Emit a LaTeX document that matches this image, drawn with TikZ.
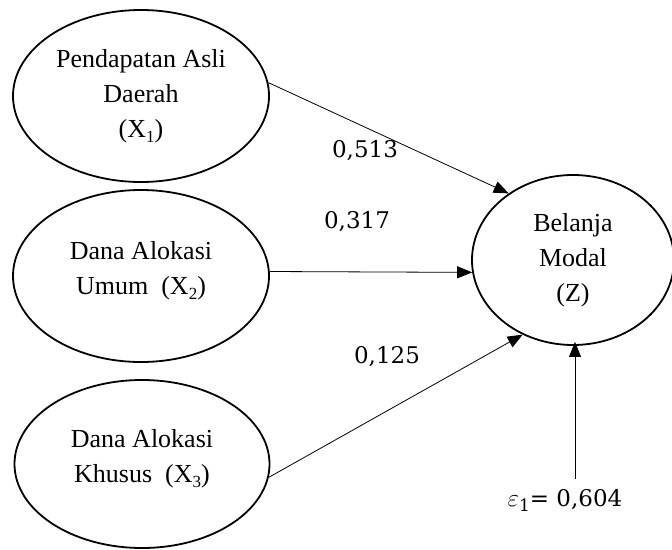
\documentclass[tikz,border=0pt]{standalone}
\usepackage{fontspec}
\setmainfont{Liberation Serif}
\newfontfamily\numfont{DejaVu Serif}
\newcommand\lowsub[1]{\raisebox{-5pt}{\fontsize{17}{17}\selectfont #1}}
\usetikzlibrary{shapes.geometric,arrows.meta}
\begin{document}
\begin{tikzpicture}[x=1pt,y=-1pt,
	var/.style={ellipse, draw, line width=1.8pt, inner sep=0pt, align=center,
		font=\fontsize{26}{35}\selectfont},
	coef/.style={font=\numfont\fontsize{23}{28}\selectfont},
	path/.style={-{Triangle[length=15pt,width=12pt]}, line width=0.8pt}]
	\useasboundingbox (0,0) rectangle (672,549);
	\node (X1) at (141, 96)	[var, minimum width=256pt, minimum height=172pt]	{Pendapatan Asli\\Daerah\\(X\lowsub{1})};
	\node (X2) at (141,276)	[var, minimum width=256pt, minimum height=172pt]	{Dana Alokasi\\Umum\ \ (X\lowsub{2})\\[-19pt]};
	\node (X3) at (142,464)	[var, minimum width=255pt, minimum height=168pt]	{Dana Alokasi\\Khusus\ \ (X\lowsub{3})\\[-19pt]};
	\node (Z)  at (573,260)	[var, minimum width=202pt, minimum height=170pt]	{Belanja\\Modal\\(Z)};
	\node (b1) at (365,151)	[coef]	{0,513};
	\node (b2) at (357,222)	[coef]	{0,317};
	\node (b3) at (387,357)	[coef]	{0,125};
	\node (e1) at (565,500)	[coef]	{$\varepsilon$\lowsub{1}= 0,604};
	\coordinate (E) at (575,479);
	\draw[path] (X1.6) -- (Z.134);
	\draw[path] (X2.2) -- (Z.187);
	\draw[path] (X3.354) -- (Z.236);
	\draw[path] (E) -- ([yshift=4pt]E |- Z.south);
\end{tikzpicture}
\end{document}
